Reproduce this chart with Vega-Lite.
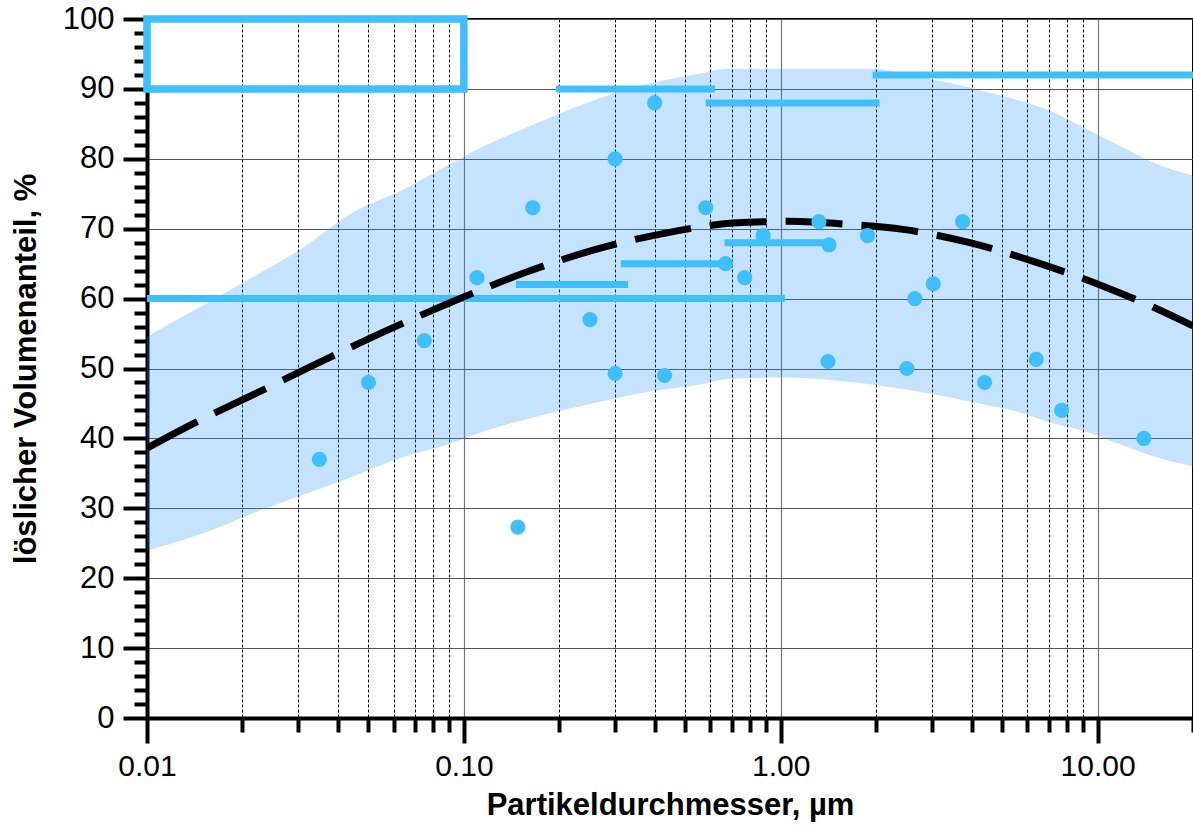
{
  "$schema": "https://vega.github.io/schema/vega-lite/v6.json",
  "width": 1046,
  "height": 699,
  "autosize": {"type": "none"},
  "padding": {"left": 147, "top": 19, "right": 0, "bottom": 111},
  "background": "white",
  "config": {
    "font": "Liberation Sans",
    "view": {"stroke": "black", "strokeWidth": 2},
    "axis": {"labelFlush": false, "labelOverlap": false}
  },
  "datasets": {
    "band": [
      {"d": 0.01, "hi": 54.5, "lo": 24.0},
      {"d": 0.0118, "hi": 56.4, "lo": 24.9},
      {"d": 0.0158, "hi": 59.6, "lo": 26.8},
      {"d": 0.0228, "hi": 63.7, "lo": 29.7},
      {"d": 0.0297, "hi": 66.7, "lo": 31.6},
      {"d": 0.0449, "hi": 72.4, "lo": 34.6},
      {"d": 0.063, "hi": 75.4, "lo": 37.2},
      {"d": 0.0884, "hi": 79.0, "lo": 39.1},
      {"d": 0.1154, "hi": 81.8, "lo": 41.0},
      {"d": 0.162, "hi": 84.7, "lo": 42.9},
      {"d": 0.244, "hi": 88.0, "lo": 44.8},
      {"d": 0.387, "hi": 90.8, "lo": 46.7},
      {"d": 0.557, "hi": 92.2, "lo": 47.7},
      {"d": 0.68, "hi": 92.9, "lo": 48.5},
      {"d": 1.0, "hi": 92.9, "lo": 48.7},
      {"d": 1.93, "hi": 92.9, "lo": 47.7},
      {"d": 2.72, "hi": 91.7, "lo": 46.7},
      {"d": 3.46, "hi": 90.8, "lo": 45.8},
      {"d": 4.42, "hi": 89.6, "lo": 44.8},
      {"d": 5.5, "hi": 88.5, "lo": 43.9},
      {"d": 7.19, "hi": 86.7, "lo": 42.2},
      {"d": 9.18, "hi": 84.3, "lo": 41.0},
      {"d": 11.7, "hi": 81.9, "lo": 39.2},
      {"d": 14.9, "hi": 79.5, "lo": 37.5},
      {"d": 20, "hi": 77.6, "lo": 36.0}
    ],
    "box": [{"d1": 0.01, "d2": 0.1, "v1": 90, "v2": 100}],
    "bars": [
      {"d1": 0.01, "d2": 1.03, "v": 60},
      {"d1": 0.146, "d2": 0.33, "v": 62},
      {"d1": 0.313, "d2": 0.67, "v": 65},
      {"d1": 0.665, "d2": 1.42, "v": 68},
      {"d1": 0.58, "d2": 2.05, "v": 88},
      {"d1": 0.195, "d2": 0.62, "v": 90},
      {"d1": 1.95, "d2": 20, "v": 92}
    ],
    "curve": [
      {"d": 0.01, "v": 38.6},
      {"d": 0.014, "v": 42.1},
      {"d": 0.0222, "v": 46.5},
      {"d": 0.0351, "v": 50.9},
      {"d": 0.0556, "v": 55.2},
      {"d": 0.0903, "v": 59.4},
      {"d": 0.1577, "v": 63.8},
      {"d": 0.259, "v": 67.0},
      {"d": 0.425, "v": 69.3},
      {"d": 0.707, "v": 70.8},
      {"d": 1.068, "v": 71.05},
      {"d": 1.651, "v": 70.6},
      {"d": 2.43, "v": 69.9},
      {"d": 3.95, "v": 68.0},
      {"d": 6.48, "v": 65.1},
      {"d": 10.65, "v": 61.6},
      {"d": 15.13, "v": 58.7},
      {"d": 20, "v": 56.1}
    ],
    "pts": [
      {"d": 0.035, "v": 37},
      {"d": 0.05, "v": 48},
      {"d": 0.075, "v": 54},
      {"d": 0.11, "v": 63},
      {"d": 0.148, "v": 27.3},
      {"d": 0.165, "v": 73},
      {"d": 0.25, "v": 57},
      {"d": 0.3, "v": 80},
      {"d": 0.3, "v": 49.3},
      {"d": 0.4, "v": 88},
      {"d": 0.43, "v": 49},
      {"d": 0.58, "v": 73},
      {"d": 0.67, "v": 65},
      {"d": 0.77, "v": 63},
      {"d": 0.88, "v": 69},
      {"d": 1.32, "v": 71},
      {"d": 1.42, "v": 67.7},
      {"d": 1.41, "v": 51},
      {"d": 1.88, "v": 69},
      {"d": 2.5, "v": 50},
      {"d": 2.65, "v": 60},
      {"d": 3.03, "v": 62.1},
      {"d": 3.75, "v": 71},
      {"d": 4.4, "v": 48},
      {"d": 6.4, "v": 51.3},
      {"d": 7.7, "v": 44},
      {"d": 14, "v": 40}
    ]
  },
  "resolve": {"axis": {"x": "independent", "y": "independent"}},
  "layer": [
    {
      "data": {"name": "band"},
      "mark": {"type": "area", "color": "#1E90FF", "opacity": 0.26, "interpolate": "monotone"},
      "encoding": {
        "x": {
          "field": "d", "type": "quantitative",
          "scale": {"type": "log", "domain": [0.01, 20], "nice": false},
          "axis": {
            "orient": "bottom", "values": [0.01, 0.1, 1, 10], "format": ".2f",
            "labelFontSize": 30, "labelColor": "black", "labelPadding": 8,
            "tickSize": 25, "tickWidth": 4, "tickColor": "black",
            "domainColor": "black", "domainWidth": 4,
            "grid": true, "gridColor": "#777", "gridWidth": 1.2,
            "title": "Partikeldurchmesser, µm", "titleFontSize": 31, "titleFontWeight": "bold",
            "titleColor": "black", "titlePadding": 9
          }
        },
        "y": {
          "field": "hi", "type": "quantitative",
          "scale": {"domain": [0, 100], "nice": false},
          "axis": {
            "orient": "left", "values": [0, 10, 20, 30, 40, 50, 60, 70, 80, 90, 100],
            "labelFontSize": 31, "labelColor": "black", "labelPadding": 9,
            "tickSize": 24, "tickWidth": 4, "tickColor": "black",
            "domainColor": "black", "domainWidth": 4,
            "grid": true, "gridColor": "#555", "gridWidth": 1.2,
            "title": "löslicher Volumenanteil, %", "titleFontSize": 31, "titleFontWeight": "bold",
            "titleColor": "black", "titlePadding": 20
          }
        },
        "y2": {"field": "lo"}
      }
    },
    {
      "data": {"name": "box"},
      "mark": {"type": "rect", "filled": false, "stroke": "#40BFFF", "strokeWidth": 7.5},
      "encoding": {
        "x": {
          "field": "d1", "type": "quantitative",
          "axis": {
            "orient": "bottom",
            "values": [0.02, 0.03, 0.04, 0.05, 0.06, 0.07, 0.08, 0.09, 0.2, 0.3, 0.4, 0.5, 0.6, 0.7, 0.8, 0.9, 2, 3, 4, 5, 6, 7, 8, 9, 20],
            "labels": false, "tickSize": 14, "tickWidth": 4, "tickColor": "black",
            "domain": false, "grid": true, "gridColor": "black", "gridWidth": 1, "gridDash": [3, 2],
            "title": null
          }
        },
        "x2": {"field": "d2"},
        "y": {
          "field": "v1", "type": "quantitative",
          "axis": {
            "orient": "left",
            "values": [2, 4, 6, 8, 12, 14, 16, 18, 22, 24, 26, 28, 32, 34, 36, 38, 42, 44, 46, 48, 52, 54, 56, 58, 62, 64, 66, 68, 72, 74, 76, 78, 82, 84, 86, 88, 92, 94, 96, 98],
            "labels": false, "tickSize": 13, "tickWidth": 4, "tickColor": "black",
            "domain": false, "grid": false, "title": null
          }
        },
        "y2": {"field": "v2"}
      }
    },
    {
      "data": {"name": "bars"},
      "mark": {"type": "rule", "color": "#40BFFF", "strokeWidth": 7, "strokeCap": "butt"},
      "encoding": {
        "x": {"field": "d1", "type": "quantitative", "axis": null},
        "x2": {"field": "d2"},
        "y": {"field": "v", "type": "quantitative", "axis": null}
      }
    },
    {
      "data": {"name": "curve"},
      "mark": {"type": "line", "color": "black", "strokeWidth": 7, "strokeDash": [57, 19], "strokeCap": "butt", "interpolate": "monotone"},
      "encoding": {
        "x": {"field": "d", "type": "quantitative", "axis": null},
        "y": {"field": "v", "type": "quantitative", "axis": null}
      }
    },
    {
      "data": {"name": "pts"},
      "mark": {"type": "circle", "color": "#40BFFF", "opacity": 1, "size": 230},
      "encoding": {
        "x": {"field": "d", "type": "quantitative", "axis": null},
        "y": {"field": "v", "type": "quantitative", "axis": null}
      }
    }
  ]
}
